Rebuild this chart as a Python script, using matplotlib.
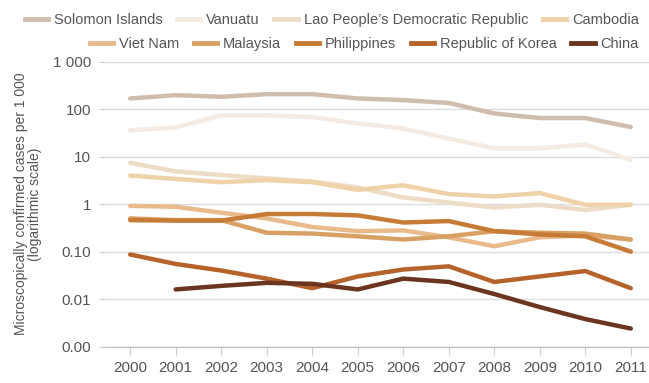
import numpy as np
import matplotlib
matplotlib.use("Agg")
import matplotlib.pyplot as plt
from matplotlib.lines import Line2D
from matplotlib.ticker import FixedLocator, NullLocator

plt.rcParams['font.family'] = ['Liberation Sans', 'DejaVu Sans']

years = list(range(2000, 2012))

# cases per 1 000
solomon = [168, 197, 182, 207, 207, 168, 155, 135, 81, 65, 65, 42]
vanuatu = [36, 41, 74, 74, 68, 50, 39, 24, 15, 15, 18, 8.5]
lao = [7.4, 4.9, 4.1, 3.5, 3.0, 2.25, 1.38, 1.08, 0.85, 0.97, 0.75, 0.97]
cambodia = [4.0, 3.4, 2.9, 3.2, 2.9, 2.0, 2.5, 1.63, 1.45, 1.71, 0.97, 0.97]
vietnam = [0.92, 0.88, 0.66, 0.50, 0.33, 0.27, 0.28, 0.20, 0.13, 0.20, 0.22, 0.18]
malaysia = [0.50, 0.46, 0.46, 0.25, 0.24, 0.21, 0.18, 0.21, 0.27, 0.25, 0.24, 0.18]
philippines = [0.46, 0.45, 0.45, 0.62, 0.62, 0.58, 0.41, 0.44, 0.27, 0.23, 0.21, 0.10]
korea = [0.087, 0.055, 0.040, 0.027, 0.017, 0.030, 0.042, 0.049, 0.023, 0.030, 0.039, 0.017]
china = [None, 0.016, 0.019, 0.022, 0.021, 0.016, 0.027, 0.023, 0.0128, 0.0068, 0.0038, 0.0024]

names = ["Solomon Islands", "Vanuatu", "Lao People\u2019s Democratic Republic", "Cambodia",
         "Viet Nam", "Malaysia", "Philippines", "Republic of Korea", "China"]
series = [solomon, vanuatu, lao, cambodia, vietnam, malaysia, philippines, korea, china]
colors = ["#CFBEAE", "#F4EBE3", "#EEDDC6", "#EFD2A8", "#E9BA8B", "#D9A064",
          "#C67B37", "#B6632B", "#6C3520"]

yticks = [0.001, 0.01, 0.1, 1, 10, 100, 1000]
ylabels = ["0.00", "0.01", "0.10", "1", "10", "100", "1 000"]

grey = "#555555"
fs = 10
fig = plt.figure(figsize=(6.49, 3.83), dpi=100)
ax = fig.add_axes([0.162, 0.095, 0.838, 0.744])

for name, vals, c in zip(names, series, colors):
    y = np.array([np.nan if v is None else v for v in vals], dtype=float)
    ax.plot(years, y, color=c, lw=3.2, solid_capstyle='round', solid_joinstyle='round', label=name)

ax.set_yscale('log')
ax.set_ylim(0.001, 1000)
ax.set_xlim(1999.45, 2011.4)
ax.yaxis.set_major_locator(FixedLocator(yticks))
ax.yaxis.set_minor_locator(NullLocator())
ax.set_yticklabels(ylabels)
ax.set_xticks(years)
ax.set_xticklabels([str(y) for y in years])
ax.grid(axis='y', color='#DDDDDD', lw=1)
ax.set_axisbelow(True)
for s in ['top', 'right', 'left']:
    ax.spines[s].set_visible(False)
ax.spines['bottom'].set_color('#BBBBBB')
ax.tick_params(axis='y', length=4, color='#CCCCCC', labelsize=fs + 1, labelcolor=grey, pad=6)
ax.tick_params(axis='x', length=6, color='#CCCCCC', labelsize=fs + 1, labelcolor=grey, pad=4)
ax.set_ylabel("Microscopically confirmed cases per 1 000\n(logarithmic scale)",
              fontsize=fs, color=grey, labelpad=8, linespacing=1.0)

def handles(idx):
    return [Line2D([], [], color=colors[i], lw=3.5) for i in idx]

kw = dict(frameon=False, fontsize=fs + 0.5, handlelength=1.6, handletextpad=0.4,
          columnspacing=1.0, labelcolor=grey, borderaxespad=0.3, loc='upper right')
leg1 = fig.legend(handles(range(4)), names[:4], bbox_to_anchor=(1.0, 0.993), ncol=4, **kw)
leg2 = fig.legend(handles(range(4, 9)), names[4:], bbox_to_anchor=(1.0, 0.93), ncol=5, **kw)

fig.savefig("out.png", dpi=100)
